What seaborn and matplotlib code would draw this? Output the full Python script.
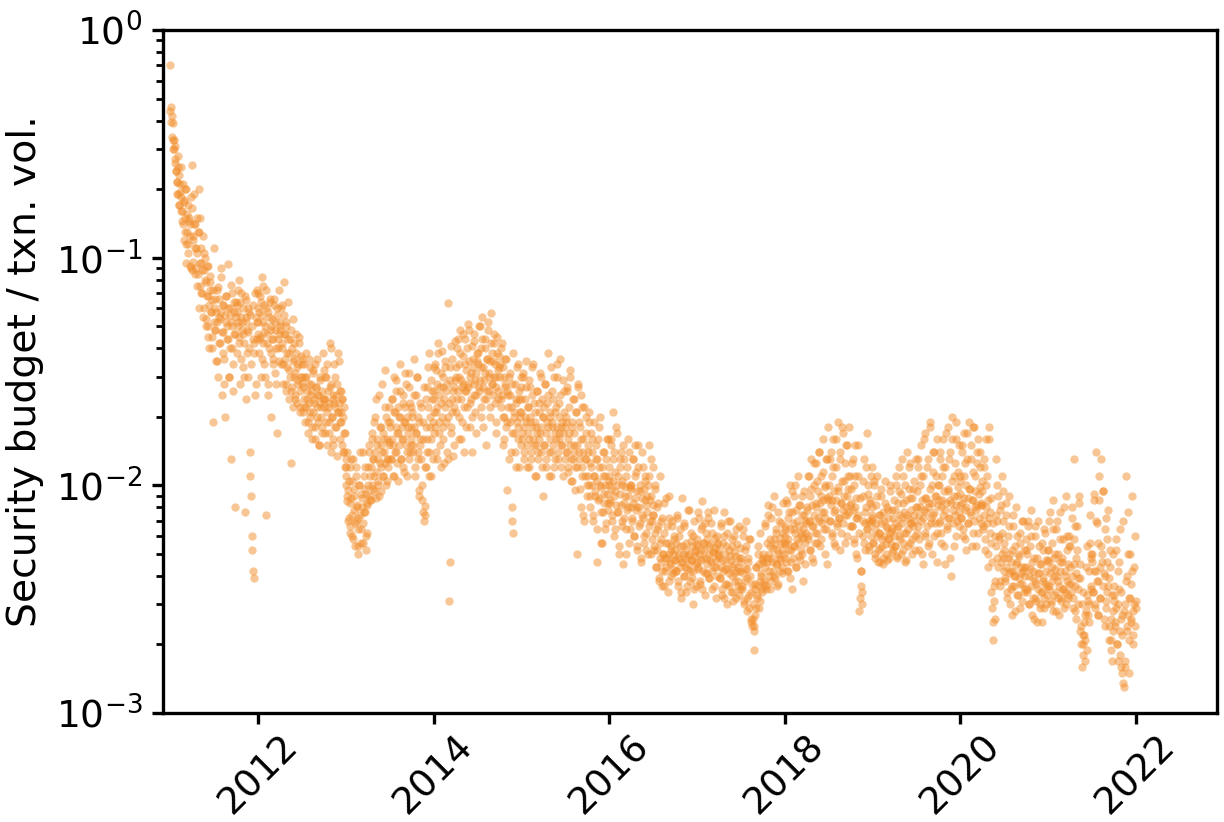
# %%
import pandas as pd
import seaborn as sns
import matplotlib.pyplot as plt

# ratio, in thousandths, roughly in date order within each year
v2011 = [700, 460, 420, 390, 330, 300, 260, 310, 240, 215, 190, 280, 170, 230, 195, 160, 250, 145, 210, 120, 180, 150, 95, 200, 130, 170, 115, 150, 92, 140, 185, 88,
         255, 125, 190, 110, 140, 90, 150, 105, 85, 200, 130, 75, 110, 95, 70, 125, 88, 60, 100, 78, 54, 92, 68, 50, 40, 72, 83, 58, 65, 45, 19, 110,
         48, 60, 35, 72, 52, 30, 66, 55, 42, 90, 58, 25, 62, 47, 36, 20, 68, 52, 44, 94, 60, 30, 56, 40, 13, 70, 50, 26, 58, 46, 8, 64,
         62, 38, 52, 80, 45, 28, 55, 70, 48, 33, 60, 42, 7.6, 52, 65, 38, 47, 30, 58, 14, 11, 9, 6, 5.2, 4.2, 3.9, 42, 25, 55, 72, 44, 60]
v2012 = [52, 38, 68, 45, 30, 56, 82, 42, 62, 34, 50, 7.4, 72, 46, 28, 58, 40, 64, 48, 20, 54, 36, 44, 66, 31, 52, 40, 17, 60, 44, 35, 50,
         48, 34, 62, 40, 28, 46, 78, 36, 26, 52, 33, 44, 24, 38, 30, 12.5, 48, 27, 35, 22, 42, 31, 25, 38, 29, 23, 34, 45, 26, 21, 30, 36,
         28, 21, 34, 24, 19, 30, 22, 26, 17, 36, 23, 20, 28, 25, 18, 32, 21, 24, 16, 34, 27, 22, 19, 25, 15, 30, 23, 20, 26, 18, 38, 22,
         24, 17, 30, 21, 15, 26, 19, 23, 42, 14, 28, 20, 24, 16, 34, 22, 18, 25, 13.5, 21, 38, 23, 26, 19, 21, 24, 15, 20, 14, 17, 12, 10]
v2013 = [11, 8.5, 14, 9.5, 7.2, 12, 6.6, 8.8, 10.5, 6, 13, 7.8, 9, 5.4, 7, 12, 8.2, 5, 6.4, 10, 7.4, 9.2, 5.6, 8, 14, 6.8, 11, 9.6, 7.6, 5.2, 6.2, 8.4,
         12, 9, 15, 11, 8.6, 16, 10, 13, 19, 9.4, 14, 24, 11.5, 16, 10, 13, 9, 18, 12, 15, 28, 11, 17, 14, 32, 12.5, 20, 16, 10.5, 13, 22, 15,
         19, 13, 24, 16, 11, 21, 30, 14, 18, 26, 12.5, 17, 22, 15, 34, 20, 13, 18, 25, 16, 11.5, 22, 19, 28, 14, 20, 17, 31, 13, 23, 18, 15,
         21, 15, 36, 18, 12, 25, 17, 30, 14, 20, 9.5, 16, 23, 13, 8.6, 19, 7.6, 7, 7.4, 8.1, 12, 27, 16, 22, 38, 14, 18, 29, 11, 24, 19, 33]
v2014 = [24, 17, 34, 21, 13, 28, 42, 19, 25, 15, 31, 23, 39, 18, 27, 12.5, 22, 33, 26, 14, 20, 63, 3.1, 4.6, 29, 17, 24, 36, 13.5, 22, 27, 43,
         30, 21, 40, 26, 16, 34, 48, 24, 29, 19, 37, 28, 14, 44, 26, 32, 22, 51, 27, 35, 18, 30, 24, 41, 14, 33, 28, 46, 21, 31, 25, 38,
         34, 26, 50, 29, 20, 40, 55, 27, 33, 24, 44, 31, 15, 36, 26, 48, 30, 22, 35, 57, 28, 38, 25, 42, 30, 34, 19, 27, 45, 32, 24, 37,
         30, 22, 40, 25, 15, 33, 20, 28, 36, 18, 26, 9.5, 22, 30, 19, 25, 14, 8, 7, 6.2, 21, 17, 28, 23, 12, 19, 34, 16, 24, 20, 15, 27]
v2015 = [21, 16, 30, 18, 13, 24, 19, 35, 15, 22, 17, 12, 27, 20, 14, 18, 33, 16, 23, 11, 19, 15, 26, 17, 13, 21, 16, 31, 18, 14, 24, 9,
         20, 15, 28, 17, 12, 23, 18, 38, 14, 21, 16, 11, 26, 19, 15, 30, 17, 13, 22, 18, 34, 14, 20, 16, 25, 12, 18, 15, 29, 17, 21, 13,
         19, 14, 27, 16, 11.5, 22, 15, 32, 13, 18, 10.5, 24, 14, 17, 12, 21, 5, 15, 28, 13, 19, 9.6, 16, 25, 12, 7.4, 14, 22, 11, 17, 13, 9,
         15, 11, 21, 12.5, 9, 17, 10, 14, 7, 19, 11, 9.4, 13, 4.6, 10.5, 16, 8.8, 12, 20, 9.8, 7.6, 5.6, 11, 14, 8.4, 10, 6.4, 13, 9.2, 16, 7.8, 10]
v2016 = [11, 8.6, 15, 9.6, 7.4, 13, 21, 9, 6.4, 11.5, 8.2, 17, 10, 7.6, 5, 12, 9.2, 14, 7, 10.5, 4.5, 8.4, 13, 9.8, 6.4, 11, 7.8, 16, 9, 5.6, 10, 8,
         9.6, 7.2, 13, 8.4, 6, 11, 15, 7.8, 9.4, 5.4, 12, 8, 6.8, 10, 4.6, 8.8, 14, 7.2, 9.6, 6, 11, 8.2, 5.2, 7.6, 10, 15, 6.6, 8.6, 5, 9, 7, 12,
         7.4, 5.4, 10, 6.2, 4.4, 8, 5.2, 6.6, 3.8, 11, 4.8, 5.8, 4.2, 7.2, 5, 3.6, 8.4, 4.8, 5.6, 4.4, 6.6, 3.4, 5, 9, 4.6, 5.4, 4, 7, 5, 4.3, 6, 4.7,
         5.2, 4.2, 7.2, 4.8, 3.6, 6, 4.4, 5.4, 3.2, 8.8, 4.6, 5, 4, 6.6, 4.8, 3.4, 5.6, 4.3, 7.8, 5, 4.5, 3.8, 6.2, 4.7, 5.4, 3, 4.2, 7, 4.9, 5.2, 3.6, 4.6]
v2017 = [5.4, 4.4, 7.6, 5, 3.7, 6.4, 4.7, 8.5, 5.6, 4.2, 5.2, 3.3, 6.8, 4.8, 5.8, 4.1, 7.2, 5, 3.9, 5.5, 4.6, 6.2, 3.5, 5.1, 4.4, 7.8, 5.3, 4.7, 3.2, 6, 4.9, 5.6,
         4.8, 3.9, 6.8, 4.4, 3.3, 5.6, 4.2, 7.6, 5, 3.7, 4.6, 3, 6.2, 4.3, 5.2, 3.6, 7, 4.7, 4, 5.4, 3.4, 4.5, 6, 4.1, 3.2, 4.9, 5.5, 3.8, 4.4, 6.6, 4.2, 3.5,
         4.6, 3.6, 6.4, 4.1, 3, 5.2, 3.8, 7, 4.3, 3.2, 4.8, 2.9, 5.8, 4, 3.4, 2.5, 2.4, 2.6, 1.9, 2.3, 3.7, 2.9, 4.4, 3.3, 5.4, 3.6, 4.5, 3.1, 6.2, 4, 3.5, 4.8,
         4.6, 3.7, 6.6, 4.4, 3.5, 5.6, 4.8, 8.2, 5, 4.2, 5.8, 3.8, 7.2, 4.6, 5.3, 4, 9, 5.5, 4.5, 6.2, 3.6, 5, 7.6, 4.8, 5.9, 4.2, 6.8, 5.2, 4.4, 8.4, 5.6, 6.4]
v2018 = [6, 4.8, 8.6, 5.6, 4.2, 7.2, 5.2, 10, 6.4, 4.6, 7.6, 3.5, 6.8, 5.4, 9, 6.2, 4.4, 7.8, 5.8, 11, 6.6, 4.9, 8.2, 6, 5.2, 7.4, 3.8, 6.4, 9.4, 5.6, 7, 6.2,
         7.8, 6, 11, 7, 5.2, 9, 13, 6.6, 8.2, 4.6, 10, 7.4, 6.2, 12.5, 8, 5.6, 9.4, 7, 14, 8.4, 5.8, 11, 7.6, 16, 8.6, 6.4, 10, 7.2, 13, 8.8, 4.5, 18,
         9, 7, 13, 8.2, 6, 11, 16, 7.6, 9.4, 5.4, 12, 8.6, 6.8, 19, 9.8, 7.2, 14, 8.4, 6.2, 10.5, 17, 7.8, 9, 5.6, 12.5, 8, 15, 7.4, 9.6, 18, 6.6, 11,
         8.4, 6.6, 12.5, 7.8, 5.6, 10, 15, 7.2, 8.8, 4.8, 11, 7.4, 2.8, 3.2, 3.6, 4.2, 3, 6, 9, 13, 6.8, 5.2, 8, 17, 6.4, 10, 7, 5.4, 8.6, 6, 12, 7.2]
v2019 = [7, 5.6, 10, 6.4, 4.8, 8.2, 6, 11, 5.2, 7.4, 6.2, 4.6, 9, 6.8, 5.4, 7.6, 4.5, 6, 10.5, 6.6, 5, 8, 5.8, 7.2, 4.8, 9.4, 6.2, 5.5, 7.8, 6.5, 5.2, 8.6,
         6.8, 5.4, 10, 6.4, 4.8, 8.4, 12, 6, 7.4, 5, 9.2, 6.8, 5.6, 11, 7.6, 4.6, 8.6, 6.2, 14, 7.2, 5.4, 9.6, 6.8, 12.5, 7.8, 5.8, 8.8, 6.6, 10.5, 7.4, 5.2, 13,
         8, 6.2, 12, 7.4, 5.2, 10, 15, 7, 8.6, 4.5, 11, 7.8, 6, 17, 8.8, 6.6, 13, 8, 5.6, 9.6, 19, 7.2, 8.4, 5, 11.5, 7.6, 14, 6.8, 9, 16, 6.2, 10,
         8.6, 6.8, 13, 8, 5.6, 11, 16, 7.4, 9.4, 4.5, 12, 8.4, 6.4, 18, 9.6, 7.2, 14, 8.6, 4, 10.5, 20, 7.8, 9, 5.4, 12.5, 8.2, 16, 7, 9.8, 15, 6.6, 11]
v2020 = [9.2, 7.2, 14, 8.4, 6, 11, 17, 7.8, 10, 5.2, 13, 8.8, 6.8, 19, 9.6, 7.4, 15, 8.6, 6.2, 11.5, 18, 8, 9.4, 5.4, 12.5, 8.2, 16, 7.2, 9.8, 14, 6.8, 10.5,
         8.2, 6.4, 12, 7.4, 5.2, 10, 16, 6.8, 8.6, 4.4, 18, 7.6, 5.6, 3.4, 2.9, 2.1, 2.5, 3.1, 3.8, 6, 13, 7, 4.8, 9, 5.8, 3.6, 7.8, 4.6, 11, 6.2, 9.4, 5.2,
         4.8, 3.8, 7.4, 4.4, 3.2, 6, 4.1, 9, 5, 3.5, 4.6, 2.7, 6.6, 4.2, 3.6, 5.4, 4, 8, 4.6, 3.3, 5, 3.9, 6.2, 2.9, 4.4, 3.7, 7, 4.2, 5.2, 3.4, 4, 5.8,
         4.4, 3.4, 6.6, 4, 3, 5.4, 3.6, 7.8, 4.6, 3.2, 4.2, 2.6, 6, 3.8, 3.1, 4.8, 3.5, 7, 4.1, 2.9, 4.5, 3.4, 5.6, 2.5, 3.9, 3.2, 6.4, 3.7, 4.7, 3, 3.6, 5.2]
v2021 = [4.6, 3.5, 7, 4.1, 3, 5.6, 3.8, 8.6, 4.8, 3.3, 4.3, 2.8, 6.4, 4, 3.2, 5, 3.6, 7.6, 4.2, 3.1, 4.6, 3.5, 5.8, 2.9, 4, 3.4, 9, 3.8, 5.2, 3.2, 3.7, 6,
         4.4, 3.4, 7.2, 4, 2.9, 5.8, 13, 3.6, 4.8, 2.6, 6.6, 3.9, 3, 8.4, 4.5, 2.3, 2, 1.6, 1.8, 2.2, 2.5, 1.7, 2.1, 2.8, 3.3, 5.4, 2.7, 4.2, 3, 7.4, 3.5, 5,
         4.6, 3.4, 9.2, 4.2, 2.9, 7, 14, 3.8, 5.6, 2.7, 8.6, 4.4, 3.2, 13, 5, 3.6, 9.4, 4.1, 2.4, 6.4, 2.9, 4.6, 3.4, 7.8, 2.1, 3.9, 5.2, 2.6, 1.9, 1.7, 2.3, 3.1,
         3.3, 2.5, 5.2, 2.9, 2, 4.2, 1.7, 3.5, 2.3, 6.4, 1.6, 2.7, 1.5, 1.35, 1.3, 1.6, 3, 11, 4, 2.4, 7.6, 3.2, 2.1, 5, 2.6, 3.7, 9, 2.2, 2.8, 4.4, 2.4, 3.1]

# second pass, the points between the first ones
c2011 = [440, 395, 340, 300, 330, 270, 240, 215, 250, 190, 170, 210, 185, 160, 140, 175, 200, 130, 115, 155, 105, 145, 125, 90, 165,
         120, 96, 140, 85, 110, 75, 130, 60, 95, 150, 70, 88, 55, 105, 80, 50, 68, 92, 45, 62, 78, 58, 40, 72, 52,
         66, 48, 58, 35, 74, 42, 54, 82, 47, 62, 38, 28, 56, 68, 50, 44, 30, 60, 76, 52, 40, 34, 64, 46, 55,
         58, 72, 50, 42, 64, 36, 52, 46, 30, 68, 55, 24, 48, 60, 40, 56, 34, 50, 62, 44, 38, 70, 28, 52, 46]
c2012 = [70, 58, 44, 64, 36, 52, 75, 47, 30, 60, 42, 25, 55, 66, 38, 50, 44, 34, 62, 48, 28, 56, 40, 72, 46,
         52, 60, 42, 34, 56, 46, 28, 50, 38, 64, 32, 44, 26, 40, 54, 30, 36, 24, 46, 33, 28, 42, 22, 37, 30,
         34, 27, 22, 30, 38, 24, 19, 28, 33, 21, 26, 16, 31, 23, 18, 27, 36, 20, 25, 15, 29, 22, 17, 24, 32,
         30, 24, 19, 34, 22, 17, 27, 40, 20, 25, 15, 23, 30, 18, 28, 21, 35, 16, 26, 19, 24, 14, 22, 17, 13]
c2013 = [12, 9, 7, 10.5, 6.2, 8.4, 13, 7.4, 5.8, 9.6, 6.8, 11, 8, 5.4, 7.2, 10, 14, 6.4, 8.8, 5.6, 7.6, 12, 9.2, 6, 8.2,
         10, 14, 8.6, 12, 17, 9.6, 13, 11, 20, 8.8, 15, 10.5, 25, 12.5, 18, 9.4, 14, 11, 16, 22, 10, 13, 19, 12, 15.5,
         18, 13, 24, 15, 11, 21, 29, 14, 17, 10.5, 20, 26, 13, 16, 23, 12, 19, 31, 15, 11, 18, 27, 14, 22, 16,
         20, 14, 25, 11, 17, 30, 13, 19, 9, 15, 22, 10, 16, 27, 12, 18, 24, 14, 33, 11, 20, 16, 26, 13, 21]
c2014 = [26, 18, 32, 14, 22, 38, 17, 27, 12, 20, 30, 16, 24, 35, 19, 28, 13, 23, 33, 18, 41, 21, 26, 15, 29,
         33, 24, 44, 20, 30, 38, 16, 27, 46, 22, 34, 26, 18, 40, 28, 48, 23, 31, 20, 36, 43, 25, 29, 17, 35,
         38, 27, 50, 22, 33, 44, 18, 29, 40, 24, 36, 52, 26, 31, 20, 42, 28, 35, 46, 23, 30, 17, 38, 26, 33,
         34, 24, 42, 20, 30, 16, 27, 36, 19, 25, 13, 31, 22, 17, 28, 38, 20, 14, 24, 33, 18, 26, 12, 21, 30]
c2015 = [24, 17, 31, 14, 20, 27, 12, 22, 16, 29, 19, 13, 25, 34, 15, 21, 11, 18, 26, 14, 23, 17, 30, 12, 20,
         22, 15, 28, 13, 19, 25, 11, 20, 33, 14, 18, 24, 12, 21, 16, 30, 13, 23, 17, 36, 15, 19, 11, 26, 18,
         20, 14, 26, 12, 17, 30, 10.5, 19, 13, 24, 15, 9.5, 21, 12, 27, 14, 18, 8, 22, 11, 16, 7, 13, 20, 10,
         14, 10, 19, 8, 12, 16, 7.4, 11, 9, 15, 6.4, 13, 8.6, 18, 10, 5.6, 12, 7.6, 14, 9.2, 11, 6.8, 16, 8.4, 10.5]
c2016 = [12, 8.4, 16, 7, 10.5, 14, 6, 9.4, 18, 7.6, 11, 5.4, 13, 8.2, 6.6, 10, 15, 7.2, 9, 5, 12, 8, 14, 6.4, 9.8,
         10, 7, 13, 6, 8.8, 11.5, 5.2, 8, 15, 6.6, 9.4, 4.8, 7.4, 12, 5.6, 8.6, 10.5, 6.2, 9, 5, 11, 7, 13, 5.8, 8.2,
         7.4, 5.2, 9.6, 4.4, 6.4, 8.4, 3.9, 5.6, 4.6, 7, 3.6, 5, 6.2, 4.2, 8.8, 4.8, 5.6, 3.8, 7.2, 4.5, 5.2, 6.6, 4.1, 5.8, 4.7,
         5.6, 4.2, 7.4, 3.8, 5, 6.4, 3.4, 4.6, 5.4, 4, 6.8, 4.4, 5.2, 3.6, 4.9, 7.8, 4.2, 5.7, 3.9, 4.7, 6, 3.5, 5.1, 4.5, 5.5]
c2017 = [5.8, 4.3, 7.2, 3.8, 5.2, 6.6, 3.5, 4.8, 5.6, 4.1, 6.2, 4.5, 7.6, 3.9, 5.4, 4.7, 6.8, 4.2, 5.1, 3.6, 5.9, 4.4, 5.5, 4, 5,
         5.2, 3.9, 6.6, 3.5, 4.7, 6, 3.2, 4.3, 5.4, 3.7, 7, 4.1, 4.9, 3.4, 5.8, 4.4, 3.1, 5.1, 3.8, 6.4, 4.2, 3.6, 4.8, 3.3, 5.3,
         4.8, 3.5, 6, 3.1, 4.3, 5.4, 2.8, 3.9, 4.6, 3.3, 5.8, 2.6, 3.7, 3, 2.4, 3.5, 2.7, 4.4, 3.2, 5, 2.9, 3.8, 4.1, 3.4, 4.7,
         5, 3.8, 6.8, 3.6, 4.6, 7.4, 4, 5.4, 3.5, 4.8, 8, 4.2, 5.8, 3.9, 6.4, 4.5, 5.2, 3.7, 7, 4.7, 5.6, 4.1, 6.2, 5, 5.5]
c2018 = [6.6, 4.6, 8.4, 4.2, 5.8, 7.6, 3.9, 5.2, 9.4, 4.8, 6.4, 5.4, 10, 4.4, 7, 5.6, 8.2, 4.7, 6.2, 5, 9, 5.9, 7.4, 4.5, 6.8,
         8, 5.8, 11, 5.2, 7, 9.6, 4.8, 6.6, 12.5, 5.6, 8.4, 6.2, 10.5, 7.2, 14, 5.4, 9, 6.8, 11.5, 7.6, 5, 9.8, 6.4, 13, 8.6,
         10, 7, 14, 6.2, 8.6, 12, 5.6, 7.8, 16, 6.6, 9.4, 7.2, 13, 5.2, 8.4, 18, 6.8, 10.5, 7.4, 15, 6, 9, 11, 7.6, 8.2,
         9.6, 6.6, 13, 5.8, 8, 11, 5, 7.2, 15, 6.2, 8.8, 4.2, 3.4, 7, 10.5, 5.6, 7.6, 12, 6.4, 9.2, 5.2, 8.4, 6.8, 11, 7.4]
c2019 = [8, 5.6, 10.5, 5, 6.8, 9, 4.6, 6.2, 7.4, 5.3, 9.6, 5.8, 4.8, 7, 8.4, 5.5, 6.5, 4.7, 7.8, 5.9, 10, 6.3, 5.1, 7.2, 6,
         7.8, 5.4, 11, 4.9, 6.6, 9.4, 5.8, 7.2, 13, 5.2, 8.4, 6.2, 10, 4.7, 7.4, 6.4, 12, 5.6, 8.8, 6.8, 5, 9.6, 7, 6, 8,
         9.4, 6.6, 13, 5.8, 8, 11, 5, 7.2, 16, 6.2, 8.8, 7.6, 12, 5.4, 8.4, 18, 6.8, 10, 7.4, 14, 6, 9, 11, 4.6, 8.2,
         10, 7, 14, 6.2, 8.6, 12, 5.4, 7.8, 17, 6.6, 9.4, 7.2, 13, 4.8, 8.4, 16, 6.8, 11, 7.4, 19, 6, 9, 11.5, 7.6, 8.2]
c2020 = [10.5, 7.2, 15, 6.4, 8.8, 12.5, 5.8, 8, 17, 6.8, 9.6, 7.6, 13, 5.4, 8.6, 18, 7, 11, 7.8, 14, 6.2, 9.2, 12, 8.2, 8.4,
         9.4, 6.6, 13, 5.8, 8, 11, 5, 7.2, 16, 6.2, 8.8, 4.6, 6.8, 3.6, 2.6, 5.4, 7.4, 10, 4.4, 6, 3.8, 8.2, 5, 7, 4.2,
         5.6, 3.9, 8.4, 3.4, 4.8, 6.6, 3, 4.2, 5.2, 3.6, 7.4, 4, 2.8, 4.5, 6, 3.3, 4.9, 3.7, 5.6, 4.1, 3.1, 7, 4.4, 3.5, 5.2,
         5, 3.5, 7, 3, 4.3, 6, 2.7, 3.9, 4.8, 3.2, 6.6, 3.7, 2.5, 4.1, 5.4, 3, 4.5, 3.4, 5.2, 3.8, 2.9, 6.2, 4.2, 3.3, 4.7]
c2021 = [5.2, 3.6, 7.6, 3.1, 4.4, 6.4, 2.8, 4, 5, 3.4, 7, 3.8, 2.7, 4.6, 5.8, 3.2, 4.8, 3.5, 8, 4.2, 3, 6, 4.5, 3.3, 5.4,
         5.4, 3.7, 8, 3.2, 4.5, 6.6, 2.8, 4.1, 5.2, 3.5, 9, 3.9, 2.4, 3, 2, 3.4, 2.2, 2.7, 4.4, 1.9, 3.1, 2.5, 5.6, 3.6, 4.8,
         5, 3.4, 8.6, 3, 4.2, 6.8, 2.7, 3.8, 11, 3.2, 5.4, 4.6, 9.4, 2.6, 4, 7.2, 3.1, 5.8, 3.6, 2.4, 4.4, 2.1, 3.3, 2.8, 5,
         3.6, 2.4, 5.8, 2, 3, 4.6, 1.8, 2.6, 3.4, 2.2, 7, 2.8, 1.7, 3.8, 2.3, 5, 2.7, 1.5, 3.2, 2.5, 4.2, 2, 3, 6, 2.9]

all_years = {2011: v2011, 2012: v2012, 2013: v2013, 2014: v2014, 2015: v2015, 2016: v2016,
             2017: v2017, 2018: v2018, 2019: v2019, 2020: v2020, 2021: v2021}
all_core = {2011: c2011, 2012: c2012, 2013: c2013, 2014: c2014, 2015: c2015, 2016: c2016,
            2017: c2017, 2018: c2018, 2019: c2019, 2020: c2020, 2021: c2021}

frames = []
for group in [all_years, all_core]:
    for year, vals in group.items():
        dates = pd.date_range(f'{year}-01-01', f'{year}-12-31', periods=len(vals))
        frames.append(pd.DataFrame({'date': dates, 'ratio': [v / 1000 for v in vals]}))
df = pd.concat(frames, ignore_index=True)

# %%
plt.rcParams['axes.linewidth'] = 1.2
fig, ax = plt.subplots(figsize=(6.12, 4.11), dpi=200)
fig.subplots_adjust(left=163 / 1224, right=1217 / 1224, top=1 - 30 / 822, bottom=1 - 713 / 822)

sns.scatterplot(data=df, x='date', y='ratio', color='#f28e2b', alpha=0.5, s=9, linewidth=0, ax=ax)

ax.set_yscale('log')
ax.set_ylim(1e-3, 1)
ax.set_xlim(pd.Timestamp('2010-12-01'), pd.Timestamp('2022-12-05'))
ax.set_xlabel('')
ax.set_ylabel('Security budget / txn. vol.', fontsize=14.2, labelpad=4)
ax.tick_params(axis='both', which='major', labelsize=13.5, width=1.2, length=4)
ax.tick_params(axis='y', which='minor', width=1, length=2.5)
ax.tick_params(axis='x', labelrotation=45, pad=1.5)

plt.savefig('out.png')
